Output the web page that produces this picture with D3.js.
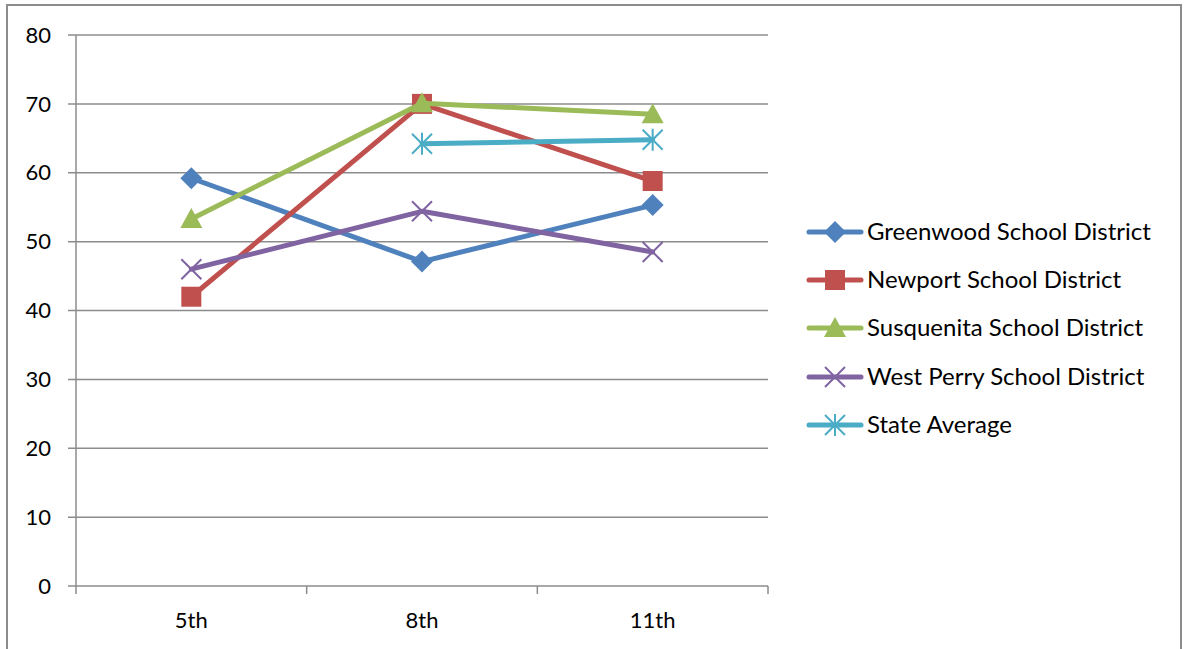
<!DOCTYPE html>
<html><head><meta charset="utf-8">
<script src="https://cdn.jsdelivr.net/npm/d3@7"></script>
<style>body{margin:0;background:#fff;} svg{display:block;}</style>
</head><body>
<svg id="c" width="1188" height="649"></svg>
<script>
const categories = ["5th", "8th", "11th"];
const seriesNames = ["Greenwood School District", "Newport School District", "Susquenita School District", "West Perry School District", "State Average"];
const greenwood = [59.2, 47.1, 55.3];
const newport = [42.0, 70.0, 58.8];
const susquenita = [53.3, 70.1, 68.5];
const westPerry = [46.0, 54.4, 48.5];
const stateAverage = [null, 64.2, 64.8];
const yTicks = [0, 10, 20, 30, 40, 50, 60, 70, 80];

const colors = ["#4F81BD", "#C0504D", "#9BBB59", "#8064A2", "#4BACC6"];
const markers = ["diamond", "square", "triangle", "x", "star"];
const allValues = [greenwood, newport, susquenita, westPerry, stateAverage];

const svg = d3.select("#c");
const font = "Lato, 'Open Sans', sans-serif";

// outer border
svg.append("rect").attr("x", 7).attr("y", 5).attr("width", 1174).attr("height", 660)
  .attr("fill", "none").attr("stroke", "#8c8c8c").attr("stroke-width", 2);

const L = 76, R = 768, T = 35, B = 586;
const x = d3.scaleBand().domain(categories).range([L, R]);
const y = d3.scaleLinear().domain([0, 80]).range([B, T]);

// gridlines
svg.append("g").selectAll("line").data(yTicks).join("line")
  .attr("x1", L - 8).attr("x2", R).attr("y1", d => y(d)).attr("y2", d => y(d))
  .attr("stroke", "#8c8c8c").attr("stroke-width", 1.5);

// y axis line
svg.append("line").attr("x1", L).attr("x2", L).attr("y1", T).attr("y2", B)
  .attr("stroke", "#8c8c8c").attr("stroke-width", 1.5);

// x axis ticks
const xEdges = categories.map(c => x(c)).concat([R]);
svg.append("g").selectAll("line").data(xEdges).join("line")
  .attr("x1", d => d).attr("x2", d => d).attr("y1", B).attr("y2", B + 8)
  .attr("stroke", "#8c8c8c").attr("stroke-width", 1.5);

// y labels
svg.append("g").selectAll("text").data(yTicks).join("text")
  .attr("x", 51).attr("y", d => y(d)).attr("dy", "0.35em").attr("text-anchor", "end")
  .attr("font-family", font).attr("font-size", 22).attr("fill", "#000").text(d => d);

// x labels
svg.append("g").selectAll("text").data(categories).join("text")
  .attr("x", d => x(d) + x.bandwidth() / 2).attr("y", 620).attr("dy", "0.35em").attr("text-anchor", "middle")
  .attr("font-family", font).attr("font-size", 22).attr("fill", "#000").text(d => d);

function drawMarker(g, type, cx, cy, color) {
  if (type === "diamond") {
    g.append("path").attr("d", `M${cx},${cy-11}L${cx+11},${cy}L${cx},${cy+11}L${cx-11},${cy}Z`).attr("fill", color);
  } else if (type === "square") {
    g.append("rect").attr("x", cx - 10).attr("y", cy - 10).attr("width", 20).attr("height", 20).attr("fill", color);
  } else if (type === "triangle") {
    g.append("path").attr("d", `M${cx},${cy-11}L${cx+11},${cy+9}L${cx-11},${cy+9}Z`).attr("fill", color);
  } else if (type === "x") {
    g.append("path").attr("d", `M${cx-10},${cy-10}L${cx+10},${cy+10}M${cx+10},${cy-10}L${cx-10},${cy+10}`)
      .attr("stroke", color).attr("stroke-width", 2);
  } else if (type === "star") {
    g.append("path").attr("d", `M${cx-10},${cy-10}L${cx+10},${cy+10}M${cx+10},${cy-10}L${cx-10},${cy+10}M${cx},${cy-11}L${cx},${cy+11}`)
      .attr("stroke", color).attr("stroke-width", 2);
  }
}

const line = d3.line().defined(d => d.v != null).x(d => x(d.c) + x.bandwidth() / 2).y(d => y(d.v));

allValues.forEach((vals, i) => {
  const g = svg.append("g");
  const pts = vals.map((v, j) => ({ c: categories[j], v }));
  g.append("path").datum(pts).attr("d", line).attr("fill", "none")
    .attr("stroke", colors[i]).attr("stroke-width", 5).attr("stroke-linejoin", "round").attr("stroke-linecap", "round");
  pts.filter(p => p.v != null).forEach(p => drawMarker(g, markers[i], x(p.c) + x.bandwidth() / 2, y(p.v), colors[i]));
});

// legend
const legendY = [232, 280, 328, 377, 425];
seriesNames.forEach((name, i) => {
  const g = svg.append("g");
  const ly = legendY[i];
  g.append("line").attr("x1", 809).attr("x2", 861).attr("y1", ly).attr("y2", ly)
    .attr("stroke", colors[i]).attr("stroke-width", 5).attr("stroke-linecap", "round");
  drawMarker(g, markers[i], 835, ly, colors[i]);
  g.append("text").attr("x", 867).attr("y", ly).attr("dy", "0.35em")
    .attr("font-family", font).attr("font-size", 24).attr("fill", "#000").text(name);
});
</script>
</body></html>
